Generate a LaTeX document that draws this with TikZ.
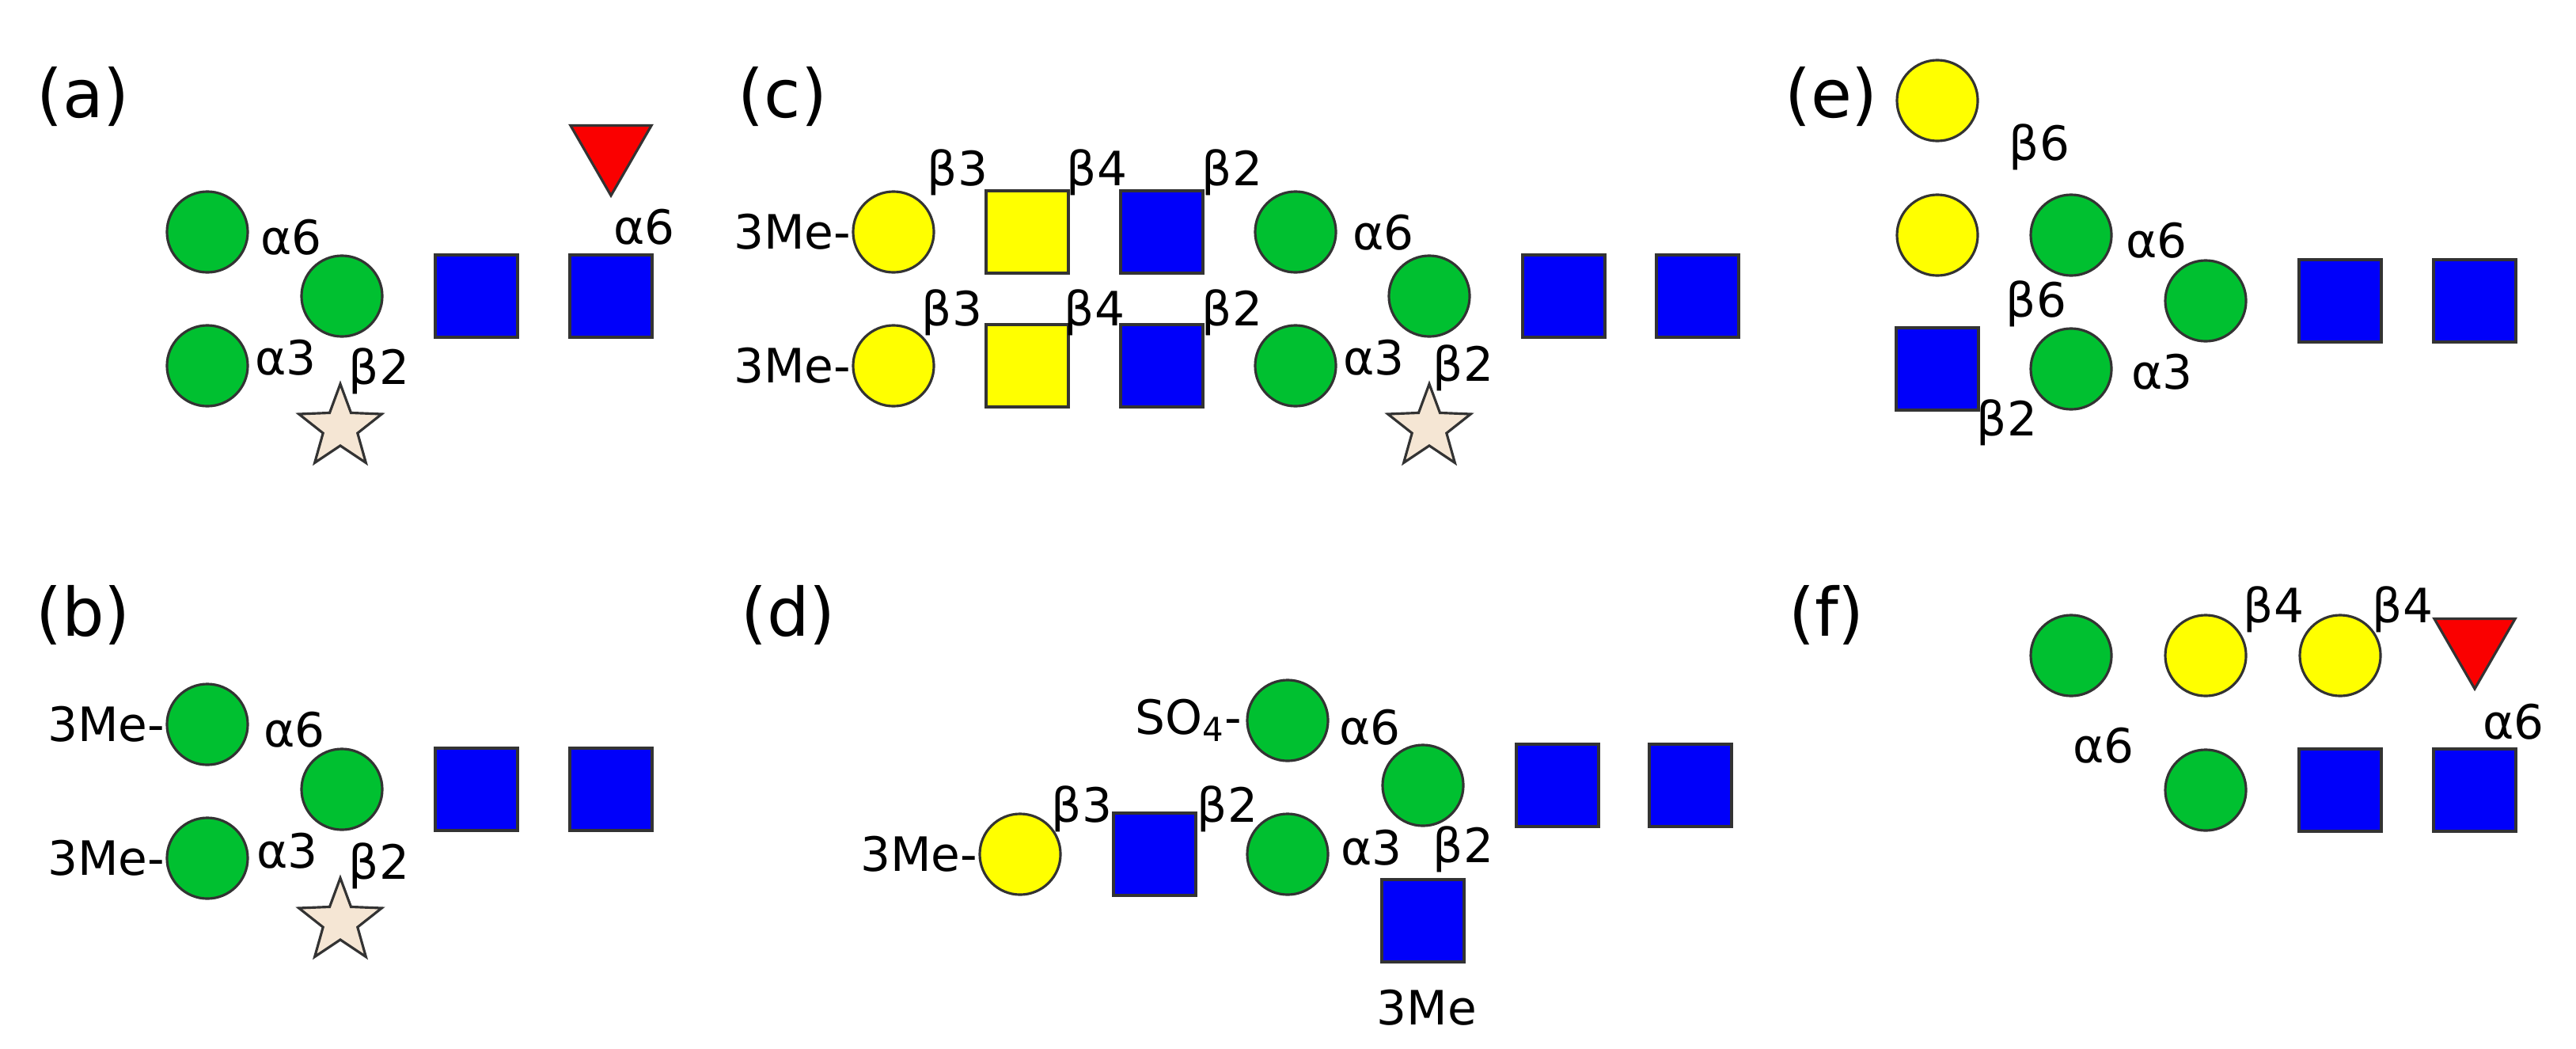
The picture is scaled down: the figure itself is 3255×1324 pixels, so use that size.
\documentclass[tikz,border=0pt]{standalone}
\usepackage{fontspec}
\setmainfont{DejaVu Sans}
\usetikzlibrary{shapes.geometric}
\pgfdeclarelayer{bg}\pgfsetlayers{bg,main}
\definecolor{gc}{RGB}{0,192,48}
\definecolor{yc}{RGB}{255,255,0}
\definecolor{bc}{RGB}{0,0,250}
\definecolor{rc}{RGB}{250,0,0}
\definecolor{sc}{RGB}{245,230,212}
\tikzset{
 base/.style={draw=black!80,line width=0.9pt,inner sep=0pt},
 G/.style={base,circle,fill=gc,minimum size=1.02cm},
 Y/.style={base,circle,fill=yc,minimum size=1.02cm},
 B/.style={base,rectangle,fill=bc,minimum size=1.04cm},
 YS/.style={base,rectangle,fill=yc,minimum size=1.04cm},
 T/.style={base,regular polygon,regular polygon sides=3,shape border rotate=180,fill=rc,minimum size=1.18cm},
 S/.style={base,star,star points=5,star point ratio=2.4,fill=sc,minimum size=1.1cm},
 L/.style={font=\fontsize{17}{20}\selectfont,inner sep=0pt},
 P/.style={font=\fontsize{24}{28}\selectfont,inner sep=0pt},
 e/.style={line width=0.9pt},
}
\begin{document}
\begin{tikzpicture}[x=0.01cm,y=-0.01cm]
\useasboundingbox[fill=white] (0,0) rectangle (3255,1324);
% (a)
\node[P] (pa) at (105,122) {(a)};
\node[G] (a1) at (262,293) {};
\node[G] (a2) at (262,462) {};
\node[G] (a0) at (432,374) {};
\node[B] (a3) at (602,374) {};
\node[B] (a4) at (772,374) {};
\node[T] (a5) at (772,188) {};
\node[S] (a6) at (430,540) {};
\node[L] at (368,300) {α6};
\node[L] at (361,452) {α3};
\node[L] at (479,469) {β2};
\node[L] at (814,287) {α6};
% (b)
\node[P] (pb) at (105,777) {(b)};
\node[G] (b1) at (262,915) {};
\node[G] (b2) at (262,1084) {};
\node[G] (b0) at (432,997) {};
\node[B] (b3) at (602,997) {};
\node[B] (b4) at (772,997) {};
\node[S] (b6) at (430,1164) {};
\node[L,anchor=east] at (209,915) {3Me-};
\node[L,anchor=east] at (209,1084) {3Me-};
\node[L] at (372,922) {α6};
\node[L] at (363,1075) {α3};
\node[L] at (479,1094) {β2};
% (c)
\node[P] (pc) at (989,122) {(c)};
\node[Y] (c1) at (1129,293) {};
\node[YS] (c2) at (1298,293) {};
\node[B] (c3) at (1468,293) {};
\node[G] (c4) at (1637,293) {};
\node[Y] (c5) at (1129,462) {};
\node[YS] (c6) at (1298,462) {};
\node[B] (c7) at (1468,462) {};
\node[G] (c8) at (1637,462) {};
\node[G] (c0) at (1806,374) {};
\node[B] (c9) at (1976,374) {};
\node[B] (c10) at (2145,374) {};
\node[S] (c11) at (1806,540) {};
\node[L,anchor=east] at (1076,293) {3Me-};
\node[L,anchor=east] at (1076,462) {3Me-};
\node[L] at (1210,218) {β3};
\node[L] at (1386,218) {β4};
\node[L] at (1557,218) {β2};
\node[L] at (1203,395) {β3};
\node[L] at (1383,395) {β4};
\node[L] at (1557,395) {β2};
\node[L] at (1748,294) {α6};
\node[L] at (1736,452) {α3};
\node[L] at (1849,465) {β2};
% (d)
\node[P] (pd) at (996,777) {(d)};
\node[G] (d1) at (1627,910) {};
\node[G] (d0) at (1798,992) {};
\node[B] (d2) at (1968,992) {};
\node[B] (d3) at (2136,992) {};
\node[Y] (d4) at (1289,1079) {};
\node[B] (d5) at (1459,1079) {};
\node[G] (d6) at (1627,1079) {};
\node[B] (d7) at (1798,1163) {};
\coordinate (d8) at (1801,1242);
\node[L] at (1803,1273) {3Me};
\node[L,anchor=east] at (1570,910) {SO\textsubscript{4}-};
\node[L,anchor=east] at (1236,1079) {3Me-};
\node[L] at (1367,1022) {β3};
\node[L] at (1551,1022) {β2};
\node[L] at (1731,919) {α6};
\node[L] at (1733,1071) {α3};
\node[L] at (1849,1073) {β2};
% (e)
\node[P] (pe) at (2314,122) {(e)};
\node[Y] (e1) at (2448,127) {};
\node[Y] (e2) at (2448,297) {};
\node[B] (e3) at (2448,466) {};
\node[G] (e4) at (2617,297) {};
\node[G] (e5) at (2617,466) {};
\node[G] (e0) at (2787,380) {};
\node[B] (e6) at (2957,380) {};
\node[B] (e7) at (3127,380) {};
\node[L] at (2577,186) {β6};
\node[L] at (2725,304) {α6};
\node[L] at (2573,384) {β6};
\node[L] at (2732,470) {α3};
\node[L] at (2536,534) {β2};
% (f)
\node[P] (pf) at (2308,777) {(f)};
\node[G] (f1) at (2617,828) {};
\node[Y] (f2) at (2787,828) {};
\node[Y] (f3) at (2957,828) {};
\node[T] (f4) at (3127,811) {};
\node[G] (f0) at (2787,998) {};
\node[B] (f5) at (2957,998) {};
\node[B] (f6) at (3127,998) {};
\node[L] at (2873,770) {β4};
\node[L] at (3036,770) {β4};
\node[L] at (3176,912) {α6};
\node[L] at (2658,942) {α6};
\begin{pgfonlayer}{bg}
\draw[e] (a1.center)--(a0.center) (a2.center)--(a0.center) (a0.center)--(a3.center)--(a4.center)--(a5.center) (a0.center)--(a6.center);
\draw[e] (b1.center)--(b0.center) (b2.center)--(b0.center) (b0.center)--(b3.center)--(b4.center) (b0.center)--(b6.center);
\draw[e] (c1.center)--(c2.center)--(c3.center)--(c4.center)--(c0.center) (c5.center)--(c6.center)--(c7.center)--(c8.center)--(c0.center) (c0.center)--(c9.center)--(c10.center) (c0.center)--(c11.center);
\draw[e] (d1.center)--(d0.center)--(d2.center)--(d3.center) (d4.center)--(d5.center)--(d6.center)--(d0.center) (d0.center)--(d7.center)--(d8);
\draw[e] (e1.center)--(e4.center)--(e0.center) (e2.center)--(e5.center)--(e0.center) (e3.center)--(e5.center) (e0.center)--(e6.center)--(e7.center);
\draw[e] (f1.center)--(f0.center)--(f5.center)--(f6.center)--(f4.center) (f2.center)--(f3.center)--(f3.center -| f4.center);
\end{pgfonlayer}
\end{tikzpicture}
\end{document}
